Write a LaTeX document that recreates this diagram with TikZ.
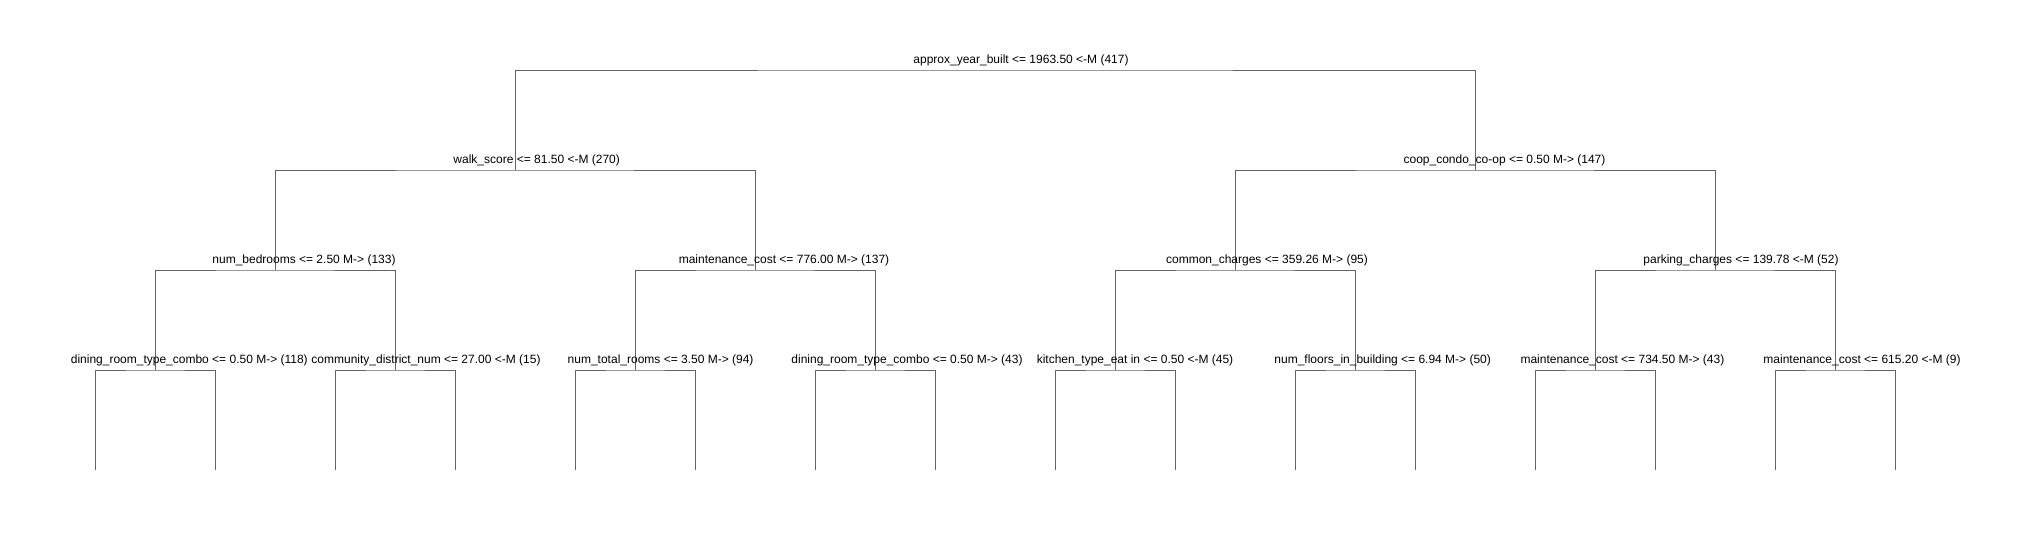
\documentclass[tikz,border=0pt]{standalone}
\usepackage{fontspec}
\setmainfont{Liberation Sans}
\definecolor{edgegray}{RGB}{100,100,100}
\begin{document}
\begin{tikzpicture}[x=1pt,y=-1pt,
  edge/.style={draw=edgegray,line width=0.9pt},
  lbl/.style={anchor=base,inner sep=0pt,font=\fontsize{12}{14}\selectfont,text=black}]
\useasboundingbox[fill=white] (0,0) rectangle (2031,540);
% tree nodes
\coordinate (r) at (995,70);
\coordinate (a) at (515,170);
\coordinate (b) at (1475,170);
\coordinate (aa) at (275,270);
\coordinate (ab) at (755,270);
\coordinate (ba) at (1235,270);
\coordinate (bb) at (1715,270);
\coordinate (aaa) at (155,370);
\coordinate (aab) at (395,370);
\coordinate (aba) at (635,370);
\coordinate (abb) at (875,370);
\coordinate (baa) at (1115,370);
\coordinate (bab) at (1355,370);
\coordinate (bba) at (1595,370);
\coordinate (bbb) at (1835,370);
\foreach \i/\x in {1/95,2/215,3/335,4/455,5/575,6/695,7/815,8/935,9/1055,10/1175,11/1295,12/1415,13/1535,14/1655,15/1775,16/1895}
  \coordinate (l\i) at (\x,470);
% connectors
\draw[edge] (a) |- (r) -| (b);
\draw[edge] (aa) |- (a) -| (ab);
\draw[edge] (ba) |- (b) -| (bb);
\draw[edge] (aaa) |- (aa) -| (aab);
\draw[edge] (aba) |- (ab) -| (abb);
\draw[edge] (baa) |- (ba) -| (bab);
\draw[edge] (bba) |- (bb) -| (bbb);
\draw[edge] (l1) |- (aaa) -| (l2);
\draw[edge] (l3) |- (aab) -| (l4);
\draw[edge] (l5) |- (aba) -| (l6);
\draw[edge] (l7) |- (abb) -| (l8);
\draw[edge] (l9) |- (baa) -| (l10);
\draw[edge] (l11) |- (bab) -| (l12);
\draw[edge] (l13) |- (bba) -| (l14);
\draw[edge] (l15) |- (bbb) -| (l16);
% labels
\node[lbl] (tr) at (1021,63.5) {approx\_year\_built <= 1963.50 <-M (417)};
\node[lbl] (ta) at (536.7,163.5) {walk\_score <= 81.50 <-M (270)};
\node[lbl] (tb) at (1504.5,163.5) {coop\_condo\_co-op <= 0.50 M-> (147)};
\node[lbl] (taa) at (304,263.5) {num\_bedrooms <= 2.50 M-> (133)};
\node[lbl] (tab) at (784,263.5) {maintenance\_cost <= 776.00 M-> (137)};
\node[lbl] (tba) at (1267,263.5) {common\_charges <= 359.26 M-> (95)};
\node[lbl] (tbb) at (1741,263.5) {parking\_charges <= 139.78 <-M (52)};
\node[lbl] (taaa) at (189.3,363.5) {dining\_room\_type\_combo <= 0.50 M-> (118)};
\node[lbl] (taab) at (426,363.5) {community\_district\_num <= 27.00 <-M (15)};
\node[lbl] (taba) at (660.6,363.5) {num\_total\_rooms <= 3.50 M-> (94)};
\node[lbl] (tabb) at (907,363.5) {dining\_room\_type\_combo <= 0.50 M-> (43)};
\node[lbl] (tbaa) at (1135,363.5) {kitchen\_type\_eat in <= 0.50 <-M (45)};
\node[lbl] (tbab) at (1382.7,363.5) {num\_floors\_in\_building <= 6.94 M-> (50)};
\node[lbl] (tbba) at (1622.4,363.5) {maintenance\_cost <= 734.50 M-> (43)};
\node[lbl] (tbbb) at (1862,363.5) {maintenance\_cost <= 615.20 <-M (9)};
\end{tikzpicture}
\end{document}
